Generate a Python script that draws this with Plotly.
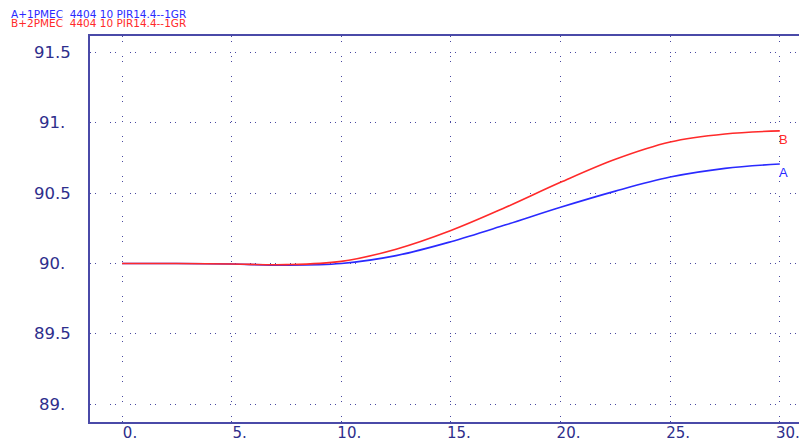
import plotly.graph_objects as go

# values
x_vals = [0, 2.5, 5, 7.5, 10, 12.5, 15, 17.5, 20, 22.5, 25, 27.5, 30]
series_a = [90.0, 90.0, 89.996, 89.988, 90.0, 90.056, 90.155, 90.275, 90.40, 90.515, 90.615, 90.677, 90.708]
series_b = [90.0, 90.0, 89.996, 89.992, 90.015, 90.102, 90.235, 90.40, 90.578, 90.742, 90.865, 90.922, 90.944]

x_ticks = [0, 5, 10, 15, 20, 25, 30]
x_tick_text = ["0.", "5.", "10.", "15.", "20.", "25.", "30."]
y_ticks = [89, 89.5, 90, 90.5, 91, 91.5]
y_tick_text = ["89.", "89.5", "90.", "90.5", "91.", "91.5"]

legend_a = "A+1PMEC\u00a0 4404 10 PIR14.4--1GR"
legend_b = "B+2PMEC\u00a0 4404 10 PIR14.4--1GR"

NAVY = "#2e2e8c"
AXIS = "#4a4aa8"
GRID = "#4848a0"
RED = "#ff2a2a"
BLUE = "#2a2aff"

# the page body has an 8px margin, so everything is laid out 8px up/left
fig = go.Figure()
fig.add_scatter(x=x_vals, y=series_a, mode="lines", line=dict(color=BLUE, width=1.6, shape="spline", smoothing=1.0))
fig.add_scatter(x=x_vals, y=series_b, mode="lines", line=dict(color=RED, width=1.6, shape="spline", smoothing=1.0))

dots = "1px,4px,1px,14px"
fig.update_xaxes(
    range=[-1.46, 31.24], tickvals=x_ticks, ticktext=x_tick_text,
    showgrid=True, gridcolor=GRID, griddash=dots, gridwidth=1,
    showline=True, linecolor=AXIS, linewidth=2, mirror=True,
    zeroline=False, ticks="", ticklabelshift=8, ticklabelstandoff=-4,
    tickfont=dict(family="DejaVu Sans", size=15, color=NAVY),
)
fig.update_yaxes(
    range=[88.872, 91.619], tickvals=y_ticks, showticklabels=False,
    showgrid=True, gridcolor=GRID, griddash=dots, gridwidth=1,
    showline=True, linecolor=AXIS, linewidth=2, mirror=False,
    zeroline=False, ticks="",
)

plot_w = 799 - 82
plot_h = 413.7 - 28
for v, t in zip(y_ticks, y_tick_text):
    fig.add_annotation(x=-38 / plot_w, y=v, xref="paper", yref="y", text=t, showarrow=False,
                       xanchor="center", yanchor="middle",
                       font=dict(family="DejaVu Sans", size=16.5, color=NAVY))

# curve labels at the right end
fig.add_annotation(x=x_vals[-1], y=series_b[-1], text="B", showarrow=False, xanchor="left", yanchor="top",
                   xshift=-3, yshift=1, font=dict(family="Liberation Sans", size=13, color=RED))
fig.add_annotation(x=x_vals[-1], y=series_a[-1], text="A", showarrow=False, xanchor="left", yanchor="top",
                   xshift=-3, yshift=1, font=dict(family="Liberation Sans", size=13, color=BLUE))

# header lines (pixel positions turned into paper coordinates)
for txt, col, py in [(legend_a, BLUE, 6.5), (legend_b, RED, 15)]:
    fig.add_annotation(x=(2 - 82) / plot_w, y=1 + (28 - py) / plot_h, xref="paper", yref="paper",
                       text=txt, showarrow=False, xanchor="left", yanchor="middle", borderpad=0,
                       font=dict(family="DejaVu Sans", size=10.5, color=col))

fig.update_layout(
    width=799, height=438,
    margin=dict(l=82, r=0, t=28, b=24.3),
    plot_bgcolor="white", paper_bgcolor="white",
    showlegend=False,
)

fig.write_html("out.html")
